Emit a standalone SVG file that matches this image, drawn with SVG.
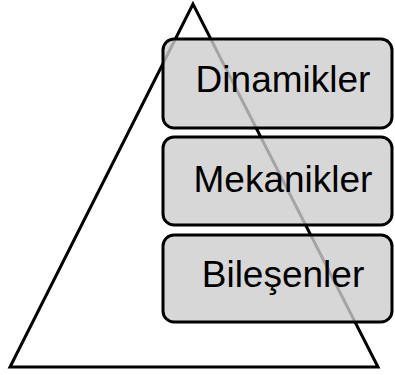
<svg xmlns="http://www.w3.org/2000/svg" width="395" height="375" viewBox="0 0 395 375">
<style>
.box{fill:#cdcdcd;fill-opacity:0.8;stroke:#000;stroke-width:3}
.lbl{font-family:"Liberation Sans",Arial,sans-serif;font-size:37px;fill:#000;text-anchor:middle}
</style>
<rect width="395" height="375" fill="#fff"/>
<g id="pyramid">
<polygon points="193,4 10,367 378,367" fill="none" stroke="#000" stroke-width="3" stroke-linejoin="miter"/>
</g>
<g id="dinamikler">
<rect class="box" x="163" y="39" width="229" height="89" rx="11"/>
<text class="lbl" x="283" y="92">Dinamikler</text>
</g>
<g id="mekanikler">
<rect class="box" x="163" y="137" width="229" height="88" rx="11"/>
<text class="lbl" x="283" y="192">Mekanikler</text>
</g>
<g id="bilesenler">
<rect class="box" x="163" y="235" width="229" height="87" rx="11"/>
<text class="lbl" x="283" y="287">Bileşenler</text>
</g>
<g id="connectors"/>
</svg>
